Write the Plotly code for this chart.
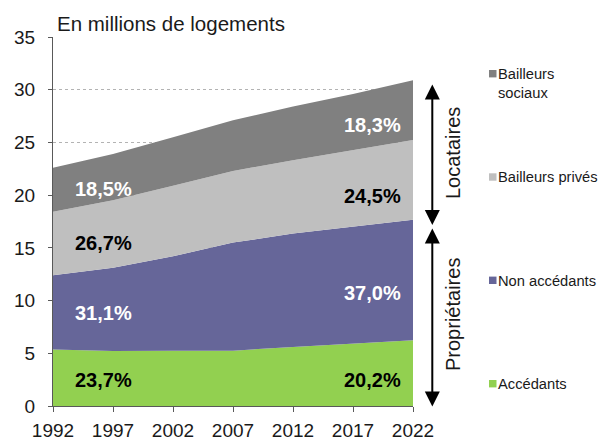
import plotly.graph_objects as go

years = [1992, 1997, 2002, 2007, 2012, 2017, 2022]
accedants = [5.36, 5.22, 5.25, 5.25, 5.60, 5.90, 6.24]
non_accedants = [7.03, 7.90, 8.95, 10.25, 10.75, 11.10, 11.43]
bailleurs_prives = [6.03, 6.40, 6.70, 6.80, 6.95, 7.30, 7.57]
bailleurs_sociaux = [4.18, 4.38, 4.60, 4.80, 5.10, 5.30, 5.66]

series_names = ["Accédants", "Non accédants", "Bailleurs privés", "Bailleurs sociaux"]
series_values = [accedants, non_accedants, bailleurs_prives, bailleurs_sociaux]
colors = ["#92d050", "#666699", "#bfbfbf", "#808080"]
legend_labels = ["Accédants", "Non accédants", "Bailleurs privés", "Bailleurs<br>sociaux"]

pct_first = ["23,7%", "31,1%", "26,7%", "18,5%"]
pct_last = ["20,2%", "37,0%", "24,5%", "18,3%"]
pct_colors = ["black", "white", "black", "white"]
pct_y_first = [2.45, 8.8, 15.5, 20.6]
pct_y_last = [2.45, 10.75, 19.95, 26.7]

FONT = "Arial, Liberation Sans, sans-serif"

fig = go.Figure()
for name, vals, col in zip(series_names, series_values, colors):
    fig.add_trace(go.Scatter(
        x=years, y=vals, name=name, mode="lines",
        stackgroup="one", line=dict(width=0, color=col),
        fillcolor=col, hoverinfo="x+y+name"))

W, H = 601, 439
ml, mr, mt, mb = 53, 188, 37, 33
pw, ph = W - ml - mr, H - mt - mb

def px(x):
    return (x - ml) / pw

def py(y):
    return (H - mb - y) / ph

annotations = []
for t, yv, c in zip(pct_first, pct_y_first, pct_colors):
    annotations.append(dict(x=1996.2, y=yv, xref="x", yref="y", text="<b>%s</b>" % t,
                            showarrow=False, xanchor="center", yanchor="middle",
                            font=dict(family=FONT, size=20, color=c)))
for t, yv, c in zip(pct_last, pct_y_last, pct_colors):
    annotations.append(dict(x=2021.2, y=yv, xref="x", yref="y", text="<b>%s</b>" % t,
                            showarrow=False, xanchor="right", yanchor="middle",
                            font=dict(family=FONT, size=20, color=c)))

# title
annotations.append(dict(x=px(55), y=py(24), xref="paper", yref="paper",
                        text="En millions de logements", showarrow=False,
                        xanchor="left", yanchor="middle", bgcolor="white",
                        font=dict(family=FONT, size=20.5, color="#1a1a1a")))

# legend (custom)
shapes = []
legend_y = [383.7, 280.3, 177, 73.7]
text_y = [384, 280.5, 177, 83]
for lab, col, sy, ty in zip(legend_labels, colors, legend_y, text_y):
    shapes.append(dict(type="rect", xref="paper", yref="paper",
                       x0=px(489), x1=px(496.5), y0=py(sy + 3.7), y1=py(sy - 3.7),
                       fillcolor=col, line=dict(width=0)))
    annotations.append(dict(x=px(496), y=py(ty), xref="paper", yref="paper",
                            text=lab, showarrow=False, xanchor="left", yanchor="middle",
                            align="left", font=dict(family=FONT, size=14.7, color="#1a1a1a")))

# arrows
arrow_x = px(432.3)
for top, bot in [(83, 225), (227, 406.5)]:
    annotations.append(dict(x=arrow_x, y=py(bot), xref="paper", yref="paper",
                            ax=0, ay=-(bot - top), text="", showarrow=True,
                            arrowhead=2, arrowside="end+start", arrowsize=1.5,
                            arrowwidth=2, arrowcolor="black"))

annotations.append(dict(x=px(453), y=py(153), xref="paper", yref="paper", text="Locataires",
                        textangle=-90, showarrow=False, xanchor="center", yanchor="middle",
                        font=dict(family=FONT, size=20, color="#1a1a1a")))
annotations.append(dict(x=px(453), y=py(315), xref="paper", yref="paper", text="Propriétaires",
                        textangle=-90, showarrow=False, xanchor="center", yanchor="middle",
                        font=dict(family=FONT, size=20, color="#1a1a1a")))

fig.update_layout(
    width=W, height=H, margin=dict(l=ml, r=mr, t=mt, b=mb, autoexpand=False),
    paper_bgcolor="white", plot_bgcolor="white",
    showlegend=False, annotations=annotations, shapes=shapes,
    font=dict(family=FONT, size=19, color="#1a1a1a"),
    xaxis=dict(range=[1992, 2022], tickmode="array", tickvals=[1992, 1997, 2002, 2007, 2012, 2017, 2022],
               showgrid=False, showline=True, linecolor="#595959", linewidth=1,
               ticks="outside", ticklen=5, tickcolor="#595959", zeroline=False,
               automargin=False, ticklabelstandoff=2,
               tickfont=dict(family=FONT, size=19, color="#1a1a1a")),
    yaxis=dict(range=[0, 35], dtick=5, showgrid=True, gridcolor="#b3b3b3", griddash="dot",
               gridwidth=1, showline=True, linecolor="#595959", linewidth=1,
               ticks="outside", ticklen=4, tickcolor="#595959", zeroline=False,
               automargin=False, ticklabelstandoff=9,
               tickfont=dict(family=FONT, size=19, color="#1a1a1a")),
)

fig.write_html("out.html", config={"displayModeBar": False},
               post_script="document.body.style.margin='0';document.body.style.overflow='hidden';")
